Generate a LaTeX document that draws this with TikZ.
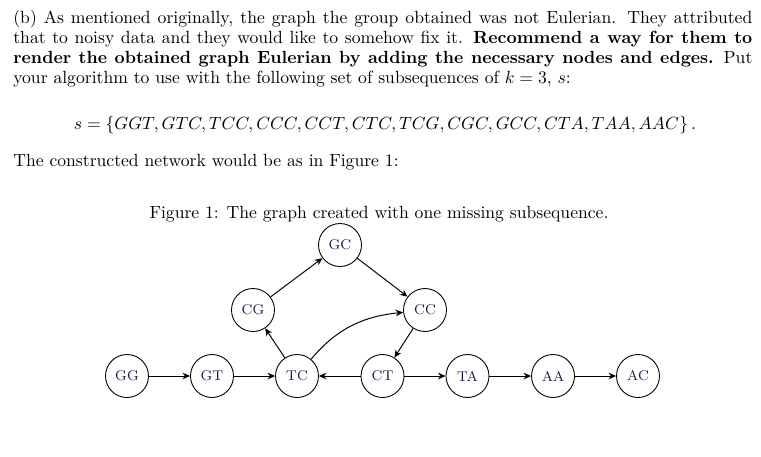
\documentclass[tikz,border=0pt]{standalone}
\usetikzlibrary{arrows.meta}
\definecolor{nodetext}{RGB}{20,28,70}
\begin{document}
\begin{tikzpicture}[x=0.5675pt,y=-0.5675pt,
  body/.style={inner sep=0pt,font=\fontsize{10}{11.45}\selectfont},
  vtx/.style={circle,draw,line width=0.5pt,minimum size=24.4pt,inner sep=0pt,font=\footnotesize,text=nodetext},
  edge/.style={-{Stealth[length=4.3pt,width=3.8pt,inset=1.4pt]},line width=0.55pt}]
\useasboundingbox (0,0) rectangle (761,456);
\node[body,anchor=base west,text width=419.4pt,align=justify] (para) at (13,23)
{(b) As mentioned originally, the graph the group obtained was not Eulerian. They attributed\linebreak
that to noisy data and they would like to somehow fix it. \textbf{Recommend a way for them to\linebreak
render the obtained graph Eulerian by adding the necessary nodes and edges.} Put\linebreak
your algorithm to use with the following set of subsequences of $k=3$, $s$:};
\node[body,anchor=base] (eq) at (385,129)
{$s=\{GGT,GTC,TCC,CCC,CCT,CTC,TCG,CGC,GCC,CTA,TAA,AAC\}\,.$};
\node[body,anchor=base west] (net) at (13,166) {The constructed network would be as in Figure 1:};
\node[body,anchor=base] (cap) at (379,218) {Figure 1: The graph created with one missing subsequence.};

\node[vtx] (GG) at (127,376) {GG};
\node[vtx] (GT) at (212,376) {GT};
\node[vtx] (TC) at (297,376) {TC};
\node[vtx] (CT) at (382.5,376) {CT};
\node[vtx] (TA) at (467.5,376) {TA};
\node[vtx] (AA) at (553,376) {AA};
\node[vtx] (AC) at (638,376) {AC};
\node[vtx] (CG) at (253,310) {CG};
\node[vtx] (GC) at (340,245) {GC};
\node[vtx] (CC) at (425,310) {CC};

\draw[edge] (GG) -- (GT);
\draw[edge] (GT) -- (TC);
\draw[edge] (CT) -- (TC);
\draw[edge] (CT) -- (TA);
\draw[edge] (TA) -- (AA);
\draw[edge] (AA) -- (AC);
\draw[edge] (TC) -- (CG);
\draw[edge] (CG) -- (GC);
\draw[edge] (GC) -- (CC);
\draw[edge] (CC) -- (CT);
\draw[edge] (TC) to[out=50,in=186] (CC);
\end{tikzpicture}
\end{document}
